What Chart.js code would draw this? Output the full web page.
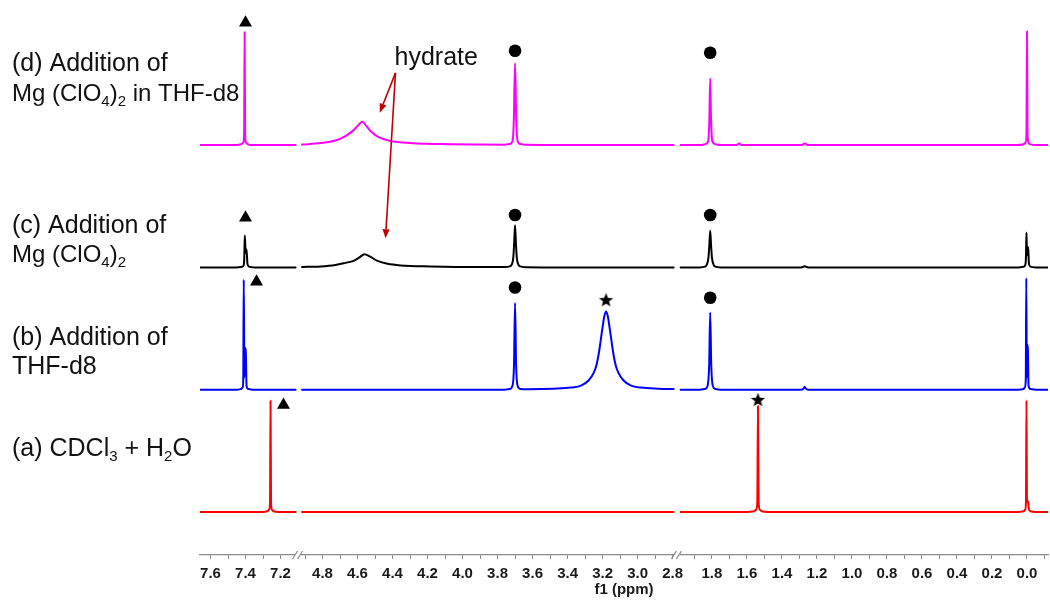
<!DOCTYPE html>
<html>
<head>
<meta charset="utf-8">
<script src="https://cdn.jsdelivr.net/npm/chart.js@4/dist/chart.umd.min.js"></script>
<style>
  html, body { margin: 0; padding: 0; background: #ffffff; }
  #wrap { width: 1050px; height: 601px; position: relative; }
</style>
</head>
<body>
<div id="wrap"><canvas id="nmr" width="1050" height="601" style="width:1050px;height:601px"></canvas></div>
<script>
// ---- axis segments of the broken f1 axis (ppm, drawn high → low) ----
const segRanges = [[7.66, 7.10], [4.94, 2.775], [2.0, -0.12]];
const segTicks = [
  [7.6, 7.5, 7.4, 7.3, 7.2],
  [4.9, 4.8, 4.7, 4.6, 4.5, 4.4, 4.3, 4.2, 4.1, 4.0, 3.9, 3.8, 3.7, 3.6, 3.5, 3.4, 3.3, 3.2, 3.1, 3.0, 2.9, 2.8],
  [1.9, 1.8, 1.7, 1.6, 1.5, 1.4, 1.3, 1.2, 1.1, 1.0, 0.9, 0.8, 0.7, 0.6, 0.5, 0.4, 0.3, 0.2, 0.1, 0.0, -0.1]
];
const segLabels = [
  [7.6, 7.4, 7.2],
  [4.8, 4.6, 4.4, 4.2, 4.0, 3.8, 3.6, 3.4, 3.2, 3.0, 2.8],
  [1.8, 1.6, 1.4, 1.2, 1.0, 0.8, 0.6, 0.4, 0.2, 0.0]
];

// ---- spectra: [ppm, intensity] per axis segment ----
// (a) CDCl3 + H2O
const specA = [
  [[7.657,0],[7.30,0],[7.275,0.006],[7.265,0.02],[7.26,0.08],[7.257,0.91],[7.254,0.08],[7.249,0.02],[7.24,0.006],[7.21,0],[7.114,0]],
  [[4.917,0],[2.794,0]],
  [[1.979,0],[1.60,0],[1.56,0.006],[1.547,0.02],[1.541,0.08],[1.537,0.867],[1.533,0.08],[1.527,0.02],[1.515,0.006],[1.48,0],
   [0.05,0],[0.02,0.006],[0.01,0.02],[0.006,0.08],[0.003,0.913],[0.0,0.08],[-0.003,0.09],[-0.007,0.08],[-0.011,0.02],[-0.02,0.006],[-0.05,0],[-0.12,0]]
];
// (b) addition of THF-d8
const specB = [
  [[7.657,0],[7.45,0],[7.425,0.006],[7.416,0.02],[7.413,0.08],[7.41,0.90],[7.406,0.1],[7.401,0.34],[7.398,0.3],[7.394,0.03],[7.385,0.006],[7.36,0],[7.114,0]],
  [[4.917,0],[3.76,0],[3.73,0.006],[3.715,0.03],[3.706,0.2],[3.70,0.709],[3.694,0.2],[3.685,0.03],[3.67,0.006],
   [3.63,0.004],[3.48,0.008],[3.38,0.017],[3.32,0.036],[3.28,0.075],[3.25,0.14],[3.235,0.2],[3.22,0.31],[3.21,0.41],[3.20,0.51],[3.19,0.60],
   [3.18,0.64],[3.17,0.60],[3.16,0.51],[3.15,0.41],[3.14,0.31],[3.125,0.2],[3.11,0.14],[3.08,0.075],[3.04,0.036],[2.98,0.017],[2.88,0.008],[2.794,0.005]],
  [[1.979,0],[1.87,0],[1.84,0.006],[1.825,0.03],[1.816,0.2],[1.81,0.632],[1.804,0.2],[1.795,0.03],[1.78,0.006],[1.75,0],
   [1.29,0],[1.275,0.01],[1.27,0.025],[1.265,0.01],[1.25,0],
   [0.05,0],[0.02,0.006],[0.012,0.02],[0.007,0.08],[0.004,0.913],[0.001,0.1],[-0.002,0.368],[-0.005,0.33],[-0.009,0.03],[-0.02,0.006],[-0.05,0],[-0.12,0]]
];
// (c) addition of Mg(ClO4)2
const specC = [
  [[7.657,0],[7.45,0],[7.42,0.005],[7.41,0.02],[7.407,0.08],[7.404,0.26],[7.399,0.12],[7.394,0.147],[7.389,0.03],[7.38,0.006],[7.35,0],[7.114,0]],
  [[4.917,0.003],[4.811,0.008],[4.726,0.02],[4.669,0.037],[4.623,0.053],[4.589,0.082],[4.56,0.107],[4.531,0.09],[4.486,0.053],[4.429,0.029],
   [4.354,0.016],[4.183,0.008],[3.9,0.003],[3.76,0.003],[3.73,0.008],[3.72,0.02],[3.71,0.08],[3.705,0.2],[3.70,0.345],[3.695,0.2],[3.69,0.08],
   [3.68,0.02],[3.67,0.008],[3.64,0.002],[3.4,0],[2.794,0]],
  [[1.979,0],[1.87,0],[1.84,0.006],[1.83,0.02],[1.82,0.08],[1.815,0.18],[1.81,0.30],[1.805,0.18],[1.80,0.08],[1.79,0.02],[1.78,0.006],[1.75,0],
   [1.29,0],[1.27,0.01],[1.25,0],
   [0.05,0],[0.02,0.005],[0.01,0.02],[0.006,0.08],[0.003,0.285],[0.0,0.1],[-0.003,0.165],[-0.007,0.165],[-0.011,0.03],[-0.02,0.006],[-0.05,0],[-0.12,0]]
];
// (d) addition of Mg(ClO4)2 in THF-d8
const specD = [
  [[7.657,0],[7.45,0],[7.425,0.006],[7.413,0.02],[7.408,0.08],[7.405,0.925],[7.402,0.08],[7.397,0.02],[7.385,0.006],[7.36,0],[7.114,0]],
  [[4.917,0.004],[4.811,0.016],[4.726,0.037],[4.669,0.074],[4.629,0.114],[4.60,0.155],[4.573,0.19],[4.549,0.155],[4.52,0.106],[4.48,0.065],
   [4.423,0.037],[4.326,0.018],[4.126,0.008],[3.9,0.004],[3.76,0.003],[3.73,0.008],[3.715,0.03],[3.707,0.2],[3.70,0.67],[3.693,0.2],[3.685,0.03],
   [3.67,0.008],[3.64,0.002],[3.4,0],[2.794,0]],
  [[1.979,0],[1.87,0],[1.84,0.006],[1.822,0.03],[1.815,0.2],[1.81,0.545],[1.805,0.2],[1.798,0.03],[1.78,0.006],[1.75,0],
   [1.66,0],[1.645,0.012],[1.63,0],[1.29,0],[1.27,0.012],[1.25,0],
   [0.05,0],[0.02,0.006],[0.008,0.02],[0.003,0.1],[0.0,0.93],[-0.003,0.1],[-0.008,0.02],[-0.02,0.006],[-0.05,0],[-0.12,0]]
];

const spectra = [specA, specB, specC, specD];
const spectrumColors = ['#ff0000', '#0000ff', '#000000', '#ff00ff'];
const stackOffsets = [0, 1, 2, 3];

// ---- peak markers: [spectrum index, ppm, level above its baseline] ----
const triangleMarks = [[3, 7.40, 1.0], [2, 7.40, 0.406], [1, 7.337, 0.883], [0, 7.183, 0.875]];
const circleMarks = [[3, 3.70, 0.771], [3, 1.81, 0.755], [2, 3.70, 0.428], [2, 1.81, 0.428], [1, 3.70, 0.836], [1, 1.81, 0.752]];
const starMarks = [[1, 3.18, 0.736], [0, 1.537, 0.92]];

// "hydrate" call-out: arrow start and the two arrow tips [ppm, stack level]
const hydrateFrom = [4.383, 3.59];
const hydrateTips = [[4.473, 3.265], [4.44, 2.238]];

const FONT = "'Liberation Sans', Arial, sans-serif";

// filled five-point star used as a point style
function makeStar(size) {
  const c = document.createElement('canvas');
  c.width = size; c.height = size;
  const g = c.getContext('2d');
  const r = size / 2, ri = r * 0.42;
  g.beginPath();
  for (let i = 0; i < 10; i++) {
    const a = -Math.PI / 2 + i * Math.PI / 5;
    const rr = (i % 2) ? ri : r;
    g.lineTo(r + rr * Math.cos(a), r + 0.8 + rr * Math.sin(a));
  }
  g.closePath();
  g.fillStyle = '#000';
  g.fill();
  return c;
}
const starImg = makeStar(15);

function segOf(ppm) {
  return segRanges.findIndex(([hi, lo]) => ppm <= hi && ppm >= lo);
}

const datasets = [];
spectra.forEach((spec, k) => {
  spec.forEach((pts, i) => {
    datasets.push({
      data: pts.map(([x, v]) => ({ x: x, y: v + stackOffsets[k] })),
      xAxisID: 'x' + i,
      yAxisID: 'y',
      showLine: true,
      borderColor: spectrumColors[k],
      borderWidth: 2,
      pointRadius: 0,
      cubicInterpolationMode: 'monotone',
      borderJoinStyle: 'round',
      borderCapStyle: 'round'
    });
  });
});

[['triangle', triangleMarks, 7.5], ['circle', circleMarks, 6.3], [starImg, starMarks, 7]].forEach(([style, marks, r]) => {
  segRanges.forEach((_, i) => {
    const pts = marks.filter(m => segOf(m[1]) === i)
      .map(([k, ppm, h]) => ({ x: ppm, y: stackOffsets[k] + h }));
    if (pts.length) {
      datasets.push({
        data: pts, xAxisID: 'x' + i, yAxisID: 'y', showLine: false,
        pointStyle: style, pointRadius: r, pointHoverRadius: r,
        backgroundColor: '#000', borderColor: '#000', borderWidth: 0
      });
    }
  });
});

function near(list, v) { return list.some(t => Math.abs(t - v) < 1e-6); }
function noPadding(scale) {
  scale.paddingLeft = 0; scale.paddingRight = 0;
  scale.paddingTop = 0; scale.paddingBottom = 0;
}

const scales = {
  y: { type: 'linear', display: false, min: -0.3515, max: 4.186, afterFit: noPadding }
};
segRanges.forEach(([hi, lo], i) => {
  scales['x' + i] = {
    type: 'linear',
    position: 'bottom',
    stack: 'f1',
    stackWeight: hi - lo,
    reverse: true,
    min: lo,
    max: hi,
    afterBuildTicks: (scale) => { scale.ticks = segTicks[i].map(v => ({ value: v })); },
    afterFit: noPadding,
    grid: { display: true, drawOnChartArea: false, drawTicks: true, tickLength: 4, tickColor: '#8a8a8a', tickWidth: 1 },
    border: { display: true, color: '#8a8a8a', width: 1.2 },
    ticks: {
      autoSkip: false, maxRotation: 0, minRotation: 0, padding: 6,
      color: '#1a1a1a',
      font: { family: FONT, size: 15, weight: 'bold' },
      callback: (v) => near(segLabels[i], v) ? Number(v).toFixed(1) : ''
    }
  };
});

// sample captions on the left (text parts, subscripts flagged)
const captions = [
  { x: 12, y: 71, size: 25, parts: [['(d) Addition of']] },
  { x: 12, y: 101, size: 24, parts: [['Mg (ClO'], ['4', 1], [')'], ['2', 1], [' in THF-d8']] },
  { x: 12, y: 233, size: 25, parts: [['(c) Addition of']] },
  { x: 12, y: 262, size: 24, parts: [['Mg (ClO'], ['4', 1], [')'], ['2', 1]] },
  { x: 12, y: 345, size: 25, parts: [['(b) Addition of']] },
  { x: 12, y: 374, size: 25, parts: [['THF-d8']] },
  { x: 12, y: 456, size: 25, parts: [['(a) CDCl'], ['3', 1], [' + H'], ['2', 1], ['O']] }
];

function drawRich(ctx, cap) {
  let x = cap.x;
  ctx.textBaseline = 'alphabetic';
  ctx.textAlign = 'left';
  cap.parts.forEach(([t, sub]) => {
    const size = sub ? 15 : cap.size;
    ctx.font = size + 'px ' + FONT;
    ctx.fillText(t, x, cap.y + (sub ? 5 : 0));
    x += ctx.measureText(t).width;
  });
}

function arrow(ctx, x0, y0, x1, y1) {
  const ang = Math.atan2(y1 - y0, x1 - x0);
  const L = 9, W = 3.6;
  const bx = x1 - L * Math.cos(ang), by = y1 - L * Math.sin(ang);
  ctx.beginPath();
  ctx.moveTo(x0, y0);
  ctx.lineTo(bx, by);
  ctx.stroke();
  ctx.beginPath();
  ctx.moveTo(x1, y1);
  ctx.lineTo(bx - W * Math.sin(ang), by + W * Math.cos(ang));
  ctx.lineTo(bx + W * Math.sin(ang), by - W * Math.cos(ang));
  ctx.closePath();
  ctx.fill();
}

const decorations = {
  id: 'decorations',
  afterDraw(chart) {
    const ctx = chart.ctx;
    const area = chart.chartArea;
    const ys = chart.scales.y;
    ctx.save();

    // break marks between axis segments
    ctx.strokeStyle = '#8a8a8a';
    ctx.lineWidth = 1.2;
    for (let i = 0; i < segRanges.length - 1; i++) {
      const bx = chart.scales['x' + i].right;
      const by = area.bottom;
      ctx.fillStyle = '#ffffff';
      ctx.fillRect(bx - 3, by - 2, 6, 4);
      [-3, 2].forEach(d => {
        ctx.beginPath();
        ctx.moveTo(bx + d - 2.5, by + 4);
        ctx.lineTo(bx + d + 2.5, by - 4);
        ctx.stroke();
      });
    }

    // axis title, centred under the whole axis
    ctx.fillStyle = '#1a1a1a';
    ctx.font = 'bold 15px ' + FONT;
    ctx.textAlign = 'center';
    ctx.textBaseline = 'middle';
    ctx.fillText('f1 (ppm)', (area.left + area.right) / 2, 590);

    // sample captions
    ctx.fillStyle = '#111111';
    captions.forEach(c => drawRich(ctx, c));

    // hydrate call-out
    const xs = chart.scales['x' + segOf(hydrateFrom[0])];
    const fx = xs.getPixelForValue(hydrateFrom[0]);
    const fy = ys.getPixelForValue(hydrateFrom[1]);
    ctx.font = '25px ' + FONT;
    ctx.textAlign = 'left';
    ctx.textBaseline = 'alphabetic';
    ctx.fillStyle = '#111111';
    ctx.fillText('hydrate', fx - 1, fy - 8);
    ctx.strokeStyle = '#c00000';
    ctx.fillStyle = '#c00000';
    ctx.lineWidth = 1.6;
    hydrateTips.forEach(([p, v]) => {
      const sx = chart.scales['x' + segOf(p)];
      arrow(ctx, fx, fy, sx.getPixelForValue(p), ys.getPixelForValue(v));
    });
    ctx.restore();
  }
};

new Chart(document.getElementById('nmr'), {
  type: 'scatter',
  data: { datasets: datasets },
  options: {
    responsive: false,
    devicePixelRatio: 1,
    animation: false,
    events: [],
    layout: { autoPadding: false, padding: { left: 200, right: 2, top: 0, bottom: 12 } },
    plugins: { legend: { display: false }, tooltip: { enabled: false }, title: { display: false } },
    scales: scales
  },
  plugins: [decorations]
});
</script>
</body>
</html>
